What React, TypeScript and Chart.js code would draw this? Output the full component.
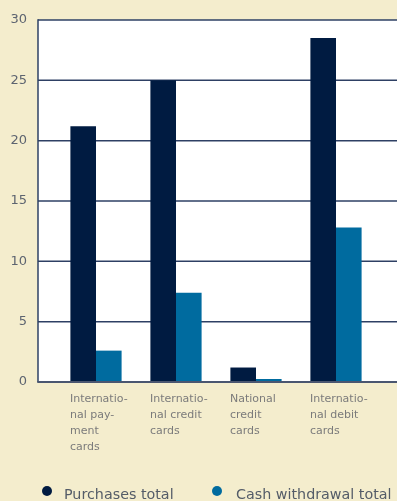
import { useEffect, useRef } from "react";
import { Chart, registerables } from "chart.js";

Chart.register(...registerables);

// Card categories (wrapped the way they are printed under the bars)
const categories: string[][] = [
  ["Internatio-", "nal pay-", "ment", "cards"],
  ["Internatio-", "nal credit", "cards"],
  ["National", "credit", "cards"],
  ["Internatio-", "nal debit", "cards"],
];
const seriesNames = ["Purchases total", "Cash withdrawal total"];
const purchasesTotal = [21.2, 25.0, 1.2, 28.5];
const cashWithdrawalTotal = [2.6, 7.4, 0.25, 12.8];
const yTicks = [0, 5, 10, 15, 20, 25, 30];

const BEIGE = "#F4EDCD";
const NAVY = "#001B41";
const BLUE = "#006B9F";
const RULE = "#2E4064";
const FONT = "'DejaVu Sans', sans-serif";

// The white panel starts a little to the left of the first category slot
const PANEL_INSET = 18;

// Legend layout: dot centres and text starts
const legendDotX = [47, 217];
const legendTextX = [64, 236];
const legendDotY = 491;
const legendBaseline = 498.5;

const plotFrame = {
  id: "plotFrame",
  beforeDraw(chart: any) {
    const { ctx, chartArea, width, height } = chart;
    const left = chartArea.left - PANEL_INSET;
    ctx.save();
    ctx.fillStyle = BEIGE;
    ctx.fillRect(0, 0, width, height);
    ctx.fillStyle = "#FFFFFF";
    ctx.fillRect(left, chartArea.top, width - left, chartArea.bottom - chartArea.top);
    ctx.restore();
  },
  beforeDatasetsDraw(chart: any) {
    const { ctx, chartArea, width } = chart;
    const ys = chart.scales.y;
    const left = chartArea.left - PANEL_INSET;
    ctx.save();
    ctx.strokeStyle = RULE;
    ctx.lineWidth = 1.5;
    ys.ticks.forEach((t: any) => {
      if (t.value === 0) return;
      const py = ys.getPixelForValue(t.value);
      ctx.beginPath();
      ctx.moveTo(left, py);
      ctx.lineTo(width, py);
      ctx.stroke();
    });
    ctx.restore();
  },
  afterDatasetsDraw(chart: any) {
    const { ctx, chartArea, width } = chart;
    const left = chartArea.left - PANEL_INSET;
    ctx.save();
    ctx.strokeStyle = RULE;
    ctx.lineWidth = 1.5;
    ctx.beginPath();
    ctx.moveTo(left, chartArea.top - 0.75);
    ctx.lineTo(left, chartArea.bottom);
    ctx.stroke();
    ctx.strokeStyle = "#4A5670";
    ctx.lineWidth = 2;
    ctx.beginPath();
    ctx.moveTo(left - 0.75, chartArea.bottom);
    ctx.lineTo(width, chartArea.bottom);
    ctx.stroke();
    ctx.restore();
  },
};

const dotLegend = {
  id: "dotLegend",
  afterDraw(chart: any) {
    const { ctx } = chart;
    ctx.save();
    ctx.font = `14.3px ${FONT}`;
    ctx.textBaseline = "alphabetic";
    ctx.textAlign = "left";
    chart.data.datasets.forEach((ds: any, i: number) => {
      ctx.fillStyle = ds.backgroundColor;
      ctx.beginPath();
      ctx.arc(legendDotX[i], legendDotY, 5, 0, Math.PI * 2);
      ctx.fill();
      ctx.fillStyle = "#545C68";
      ctx.fillText(ds.label, legendTextX[i], legendBaseline);
    });
    ctx.restore();
  },
};

export default function App() {
  const ref = useRef<HTMLCanvasElement>(null);

  useEffect(() => {
    document.body.style.margin = "0";
    const chart = new Chart(ref.current as HTMLCanvasElement, {
      type: "bar",
      data: {
        labels: categories,
        datasets: [
          {
            label: seriesNames[0],
            data: purchasesTotal,
            backgroundColor: NAVY,
            categoryPercentage: 0.64,
            barPercentage: 1,
          },
          {
            label: seriesNames[1],
            data: cashWithdrawalTotal,
            backgroundColor: BLUE,
            categoryPercentage: 0.64,
            barPercentage: 1,
          },
        ],
      },
      options: {
        responsive: false,
        animation: false,
        devicePixelRatio: 1,
        layout: { padding: { top: 20, right: 21, bottom: 0, left: 0 } },
        plugins: {
          legend: { display: false },
          tooltip: { enabled: false },
        },
        scales: {
          x: {
            grid: { display: false, drawTicks: false },
            border: { display: false },
            ticks: {
              align: "start",
              labelOffset: -26,
              padding: 9,
              autoSkip: false,
              maxRotation: 0,
              color: "#7B7B7B",
              font: { family: FONT, size: 11, lineHeight: "16px" },
            },
            afterFit: (s: any) => {
              s.height = 119;
              s.paddingLeft = 0;
              s.paddingRight = 0;
            },
          },
          y: {
            min: 0,
            max: 30,
            grid: { display: false, drawTicks: false },
            border: { display: false },
            ticks: {
              padding: 29,
              color: "#5D6470",
              font: { family: FONT, size: 13 },
            },
            afterBuildTicks: (s: any) => {
              s.ticks = yTicks.map((v) => ({ value: v }));
            },
            afterFit: (s: any) => {
              s.width = 56;
              s.paddingTop = 0;
              s.paddingBottom = 0;
            },
          },
        },
      },
      plugins: [plotFrame, dotLegend],
    });
    return () => chart.destroy();
  }, []);

  return (
    <canvas
      ref={ref}
      width={397}
      height={501}
      style={{ display: "block", width: 397, height: 501 }}
    />
  );
}
